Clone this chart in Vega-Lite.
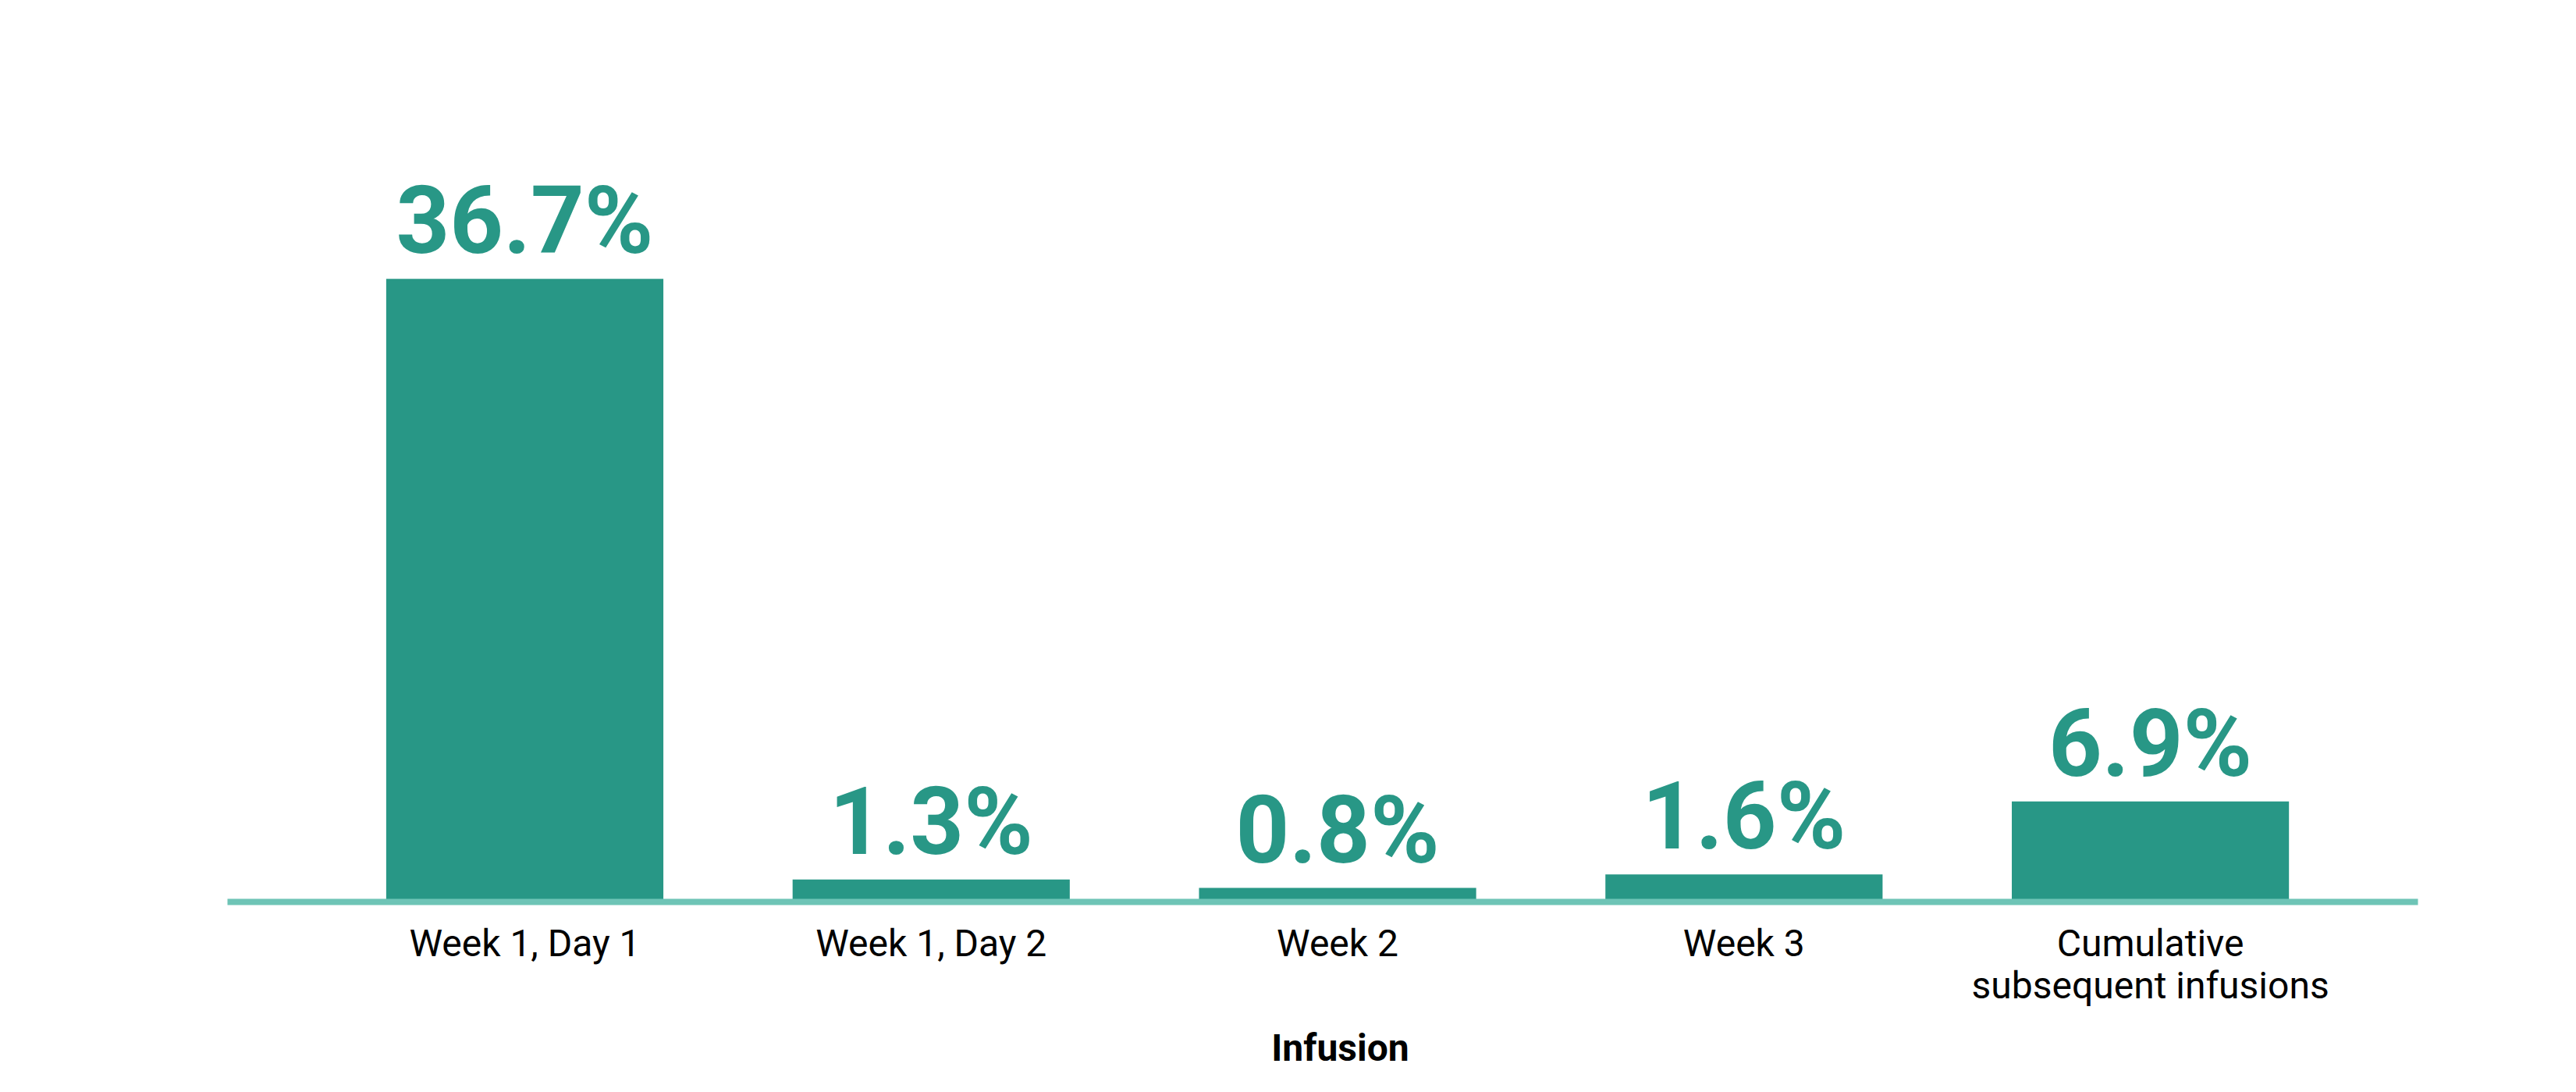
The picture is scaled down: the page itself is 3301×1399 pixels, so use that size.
{
  "$schema": "https://vega.github.io/schema/vega-lite/v6.json",
  "width": 2807,
  "height": 1087,
  "autosize": {"type": "none"},
  "padding": {"left": 291, "top": 68, "right": 203, "bottom": 244},
  "background": "white",
  "config": {"view": {"stroke": null}, "font": "Roboto"},
  "data": {
    "values": [
      {"infusion": "Week 1, Day 1", "value": 36.7, "label": "36.7%"},
      {"infusion": "Week 1, Day 2", "value": 1.3, "label": "1.3%"},
      {"infusion": "Week 2", "value": 0.8, "label": "0.8%"},
      {"infusion": "Week 3", "value": 1.6, "label": "1.6%"},
      {"infusion": "Cumulative subsequent infusions", "value": 5.9, "label": "6.9%"}
    ]
  },
  "encoding": {
    "x": {
      "field": "infusion",
      "type": "nominal",
      "sort": null,
      "scale": {"paddingInner": 0.318, "paddingOuter": 0.354, "align": 0.553},
      "axis": {
        "title": "Infusion",
        "titleFont": "Roboto",
        "titleFontSize": 48,
        "titleFontWeight": "bold",
        "titleColor": "black",
        "titlePadding": 32,
        "titleX": 1426,
        "titleAlign": "center",
        "labelFont": "Roboto",
        "labelFontSize": 48,
        "labelColor": "black",
        "labelAngle": 0,
        "labelPadding": 31,
        "labelLimit": 0,
        "labelLineHeight": 54,
        "labelExpr": "datum.label == 'Cumulative subsequent infusions' ? ['Cumulative', 'subsequent infusions'] : datum.label",
        "ticks": false,
        "domainColor": "#6EC4B6",
        "domainWidth": 8,
        "zindex": 1
      }
    },
    "y": {
      "field": "value",
      "type": "quantitative",
      "scale": {"domain": [0, 50]},
      "axis": null
    }
  },
  "layer": [
    {"mark": {"type": "bar", "color": "#289786"}},
    {
      "mark": {"type": "text", "dy": -33, "baseline": "alphabetic", "align": "center", "font": "Roboto", "fontSize": 120, "fontWeight": "bold", "color": "#289786"},
      "encoding": {"text": {"field": "label"}}
    }
  ]
}
